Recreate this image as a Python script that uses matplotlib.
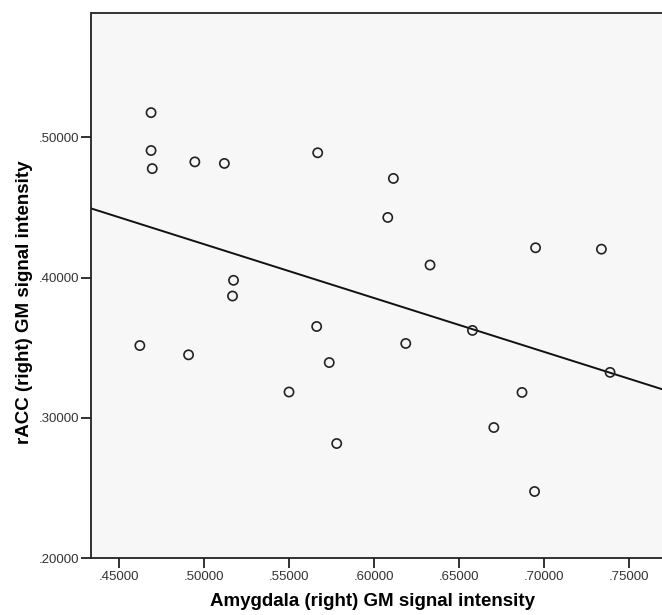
import numpy as np
import matplotlib
matplotlib.use("Agg")
import matplotlib.pyplot as plt

# values
amygdala = [0.4686, 0.4686, 0.4693, 0.4944, 0.5118, 0.5668, 0.6114, 0.6081,
            0.6330, 0.6952, 0.7340, 0.5172, 0.5166, 0.4620, 0.4907, 0.5662,
            0.5736, 0.5499, 0.5780, 0.6187, 0.6580, 0.7391, 0.6872, 0.6706,
            0.6946]
racc = [0.5176, 0.4906, 0.4777, 0.4825, 0.4814, 0.4890, 0.4707, 0.4429,
        0.4090, 0.4213, 0.4203, 0.3981, 0.3869, 0.3516, 0.3450, 0.3652,
        0.3395, 0.3185, 0.2818, 0.3531, 0.3624, 0.3325, 0.3182, 0.2932,
        0.2476]

x_ticks = [0.45, 0.50, 0.55, 0.60, 0.65, 0.70, 0.75]
y_ticks = [0.20, 0.30, 0.40, 0.50]

plt.rcParams['font.family'] = ['Liberation Sans', 'DejaVu Sans']

fig = plt.figure(figsize=(6.62, 6.15), dpi=100)
# plot box: left 91.5px, bottom spine at 558.3px, top at 13px (right edge cut off)
ax = fig.add_axes([91.5 / 662, 56.7 / 615, 1 - 91.5 / 662, 545.3 / 615])
ax.set_facecolor('#f7f7f7')

ax.scatter(amygdala, racc, s=44, facecolors='none', edgecolors='#222222',
           linewidths=1.2, zorder=3)

# least squares fit line
slope, intercept = np.polyfit(amygdala, racc, 1)
xl = np.array([0.40, 0.80])
ax.plot(xl, intercept + slope * xl, color='#111111', lw=1.4, zorder=2)

ax.set_xlim(0.4335, 0.7697)
ax.set_ylim(0.20, 0.5886)
ax.set_xticks(x_ticks)
ax.set_yticks(y_ticks)
ax.set_xticklabels(['.%05d' % round(v * 100000) for v in x_ticks])
ax.set_yticklabels(['.%05d' % round(v * 100000) for v in y_ticks])
ax.tick_params(direction='out', length=7.5, width=1.3, color='#222222',
               labelsize=9.5, labelcolor='#333333', pad=1.5)

for side in ['left', 'bottom', 'top']:
    ax.spines[side].set_linewidth(1.3)
    ax.spines[side].set_color('#222222')
ax.spines['right'].set_visible(False)

fig.text(373 / 662, 1 - 602 / 615, 'Amygdala (right) GM signal intensity',
         ha='center', va='center', fontsize=13.5, fontweight='bold')
fig.text(25 / 662, 1 - 302 / 615, 'rACC (right) GM signal intensity',
         ha='center', va='center', rotation=90, fontsize=13.5,
         fontweight='bold')

fig.savefig('out.png', dpi=100)
